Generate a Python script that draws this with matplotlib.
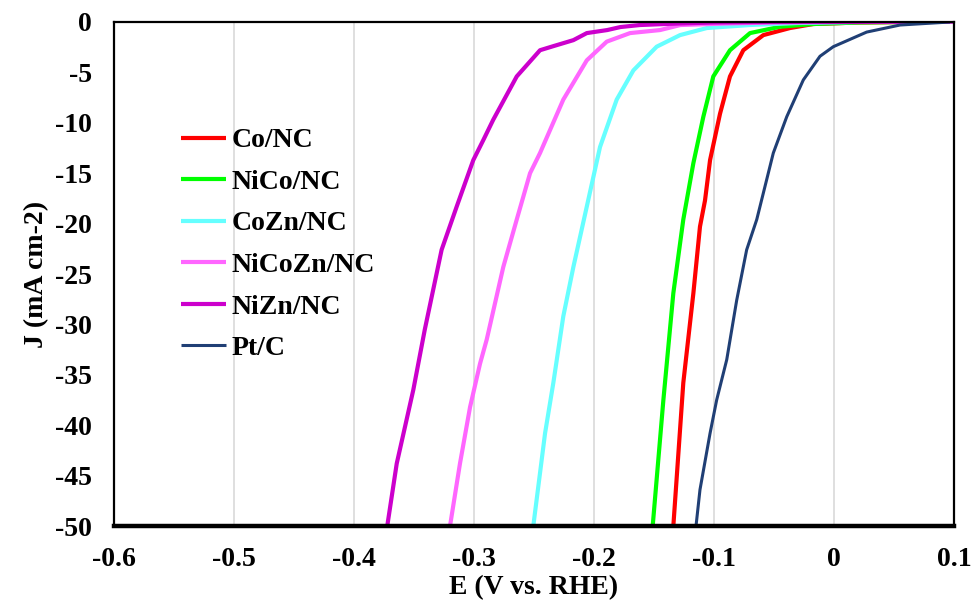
import matplotlib.pyplot as plt
from matplotlib.ticker import FixedLocator

plt.rcParams["font.family"] = ["Liberation Serif", "DejaVu Serif"]
plt.rcParams["font.weight"] = "bold"

# potential (V vs. RHE) and current density (mA cm-2)
co_e = [-0.1339, -0.1256, -0.1172, -0.1117, -0.1075, -0.1033, -0.095, -0.0867,
        -0.0756, -0.0589, -0.0367, -0.0172, 0.02, 0.06, 0.1]
co_j = [-50, -35.8, -26.9, -20.3, -17.7, -13.7, -9.1, -5.4,
        -2.8, -1.3, -0.6, -0.2, -0.05, 0.0, 0.05]

nico_e = [-0.1511, -0.1422, -0.1339, -0.1256, -0.1172, -0.1089, -0.1006,
          -0.0867, -0.07, -0.045, -0.0172, 0.02, 0.06, 0.1]
nico_j = [-50, -37.5, -26.9, -19.6, -14.0, -9.4, -5.4,
          -2.8, -1.1, -0.47, -0.2, -0.05, 0.0, 0.05]

cozn_e = [-0.2506, -0.2408, -0.2339, -0.2256, -0.2172, -0.206, -0.195, -0.1811,
          -0.1672, -0.1478, -0.1283, -0.106, -0.07, -0.03, 0.02, 0.1]
cozn_j = [-50, -40.8, -35.8, -29.2, -24.3, -18.3, -12.4, -7.7,
          -4.8, -2.45, -1.3, -0.6, -0.3, -0.1, 0.0, 0.05]

nicozn_e = [-0.32, -0.3117, -0.3033, -0.295, -0.2894, -0.2756, -0.2644, -0.2533,
            -0.245, -0.2256, -0.206, -0.1894, -0.17, -0.145, -0.128, -0.09,
            -0.05, 0.0, 0.1]
nicozn_j = [-50, -43.8, -38.2, -33.9, -31.5, -24.3, -19.6, -15.0,
            -13.0, -7.7, -3.8, -1.95, -1.1, -0.8, -0.3, -0.15,
            -0.05, 0.0, 0.05]

nizn_e = [-0.3723, -0.3644, -0.3506, -0.341, -0.327, -0.3144, -0.3006, -0.2922,
          -0.284, -0.2644, -0.245, -0.234, -0.2172, -0.206, -0.189, -0.178,
          -0.1617, -0.13, -0.1, -0.05, 0.0, 0.1]
nizn_j = [-50, -43.8, -36.5, -30.5, -22.6, -18.3, -13.7, -11.7,
          -9.7, -5.4, -2.8, -2.4, -1.8, -1.1, -0.8, -0.5,
          -0.3, -0.15, -0.05, 0.0, 0.0, 0.05]

ptc_e = [-0.115, -0.1117, -0.1033, -0.0978, -0.0894, -0.0811, -0.0728, -0.0644,
         -0.0506, -0.0394, -0.0256, -0.0117, -0.0006, 0.0272, 0.055, 0.0967]
ptc_j = [-50, -46.4, -40.8, -37.5, -33.5, -27.6, -22.6, -19.6,
         -13.0, -9.4, -5.75, -3.4, -2.45, -1.0, -0.3, 0.0]

labels = ["Co/NC", "NiCo/NC", "CoZn/NC", "NiCoZn/NC", "NiZn/NC", "Pt/C"]
colors = ["#FF0000", "#00FF00", "#66FFFF", "#FF66FF", "#CC00CC", "#203F75"]
series = [(co_e, co_j), (nico_e, nico_j), (cozn_e, cozn_j),
          (nicozn_e, nicozn_j), (nizn_e, nizn_j), (ptc_e, ptc_j)]
widths = [3.0, 3.0, 3.0, 3.0, 3.0, 2.2]

x_ticks = [-0.6, -0.5, -0.4, -0.3, -0.2, -0.1, 0, 0.1]
x_tick_labels = ["-0.6", "-0.5", "-0.4", "-0.3", "-0.2", "-0.1", "0", "0.1"]
y_ticks = [0, -5, -10, -15, -20, -25, -30, -35, -40, -45, -50]

fig = plt.figure(figsize=(9.72, 6.06), dpi=100)
ax = fig.add_axes([0.1173, 0.132, 0.8642, 0.8317])

for (e, j), lab, c, lw in zip(series, labels, colors, widths):
    ax.plot(e, j, color=c, lw=lw, label=lab, solid_capstyle="butt")

ax.set_xlim(-0.6, 0.1)
ax.set_ylim(-50, 0)
ax.xaxis.set_major_locator(FixedLocator(x_ticks))
ax.set_xticklabels(x_tick_labels)
ax.yaxis.set_major_locator(FixedLocator(y_ticks))
ax.set_yticklabels([str(v) for v in y_ticks])
ax.tick_params(axis="y", length=0, labelsize=20, pad=16)
ax.tick_params(axis="x", length=0, labelsize=20, pad=15)
ax.grid(axis="x", color="#D9D9D9", lw=1.2)
ax.set_axisbelow(True)

for s in ax.spines.values():
    s.set_color("black")
    s.set_linewidth(1.6)
ax.spines["bottom"].set_linewidth(3.2)

ax.set_xlabel("E (V vs. RHE)", fontsize=20, fontweight="bold", labelpad=2)
ax.set_ylabel("J (mA cm-2)", fontsize=20, fontweight="bold", labelpad=4)

ax.legend(loc="upper left", bbox_to_anchor=(0.08, 0.79), frameon=False,
          fontsize=20, handlelength=1.6, handletextpad=0.2,
          labelspacing=0.58, borderpad=0, borderaxespad=0)

fig.savefig("out.png", dpi=100)
